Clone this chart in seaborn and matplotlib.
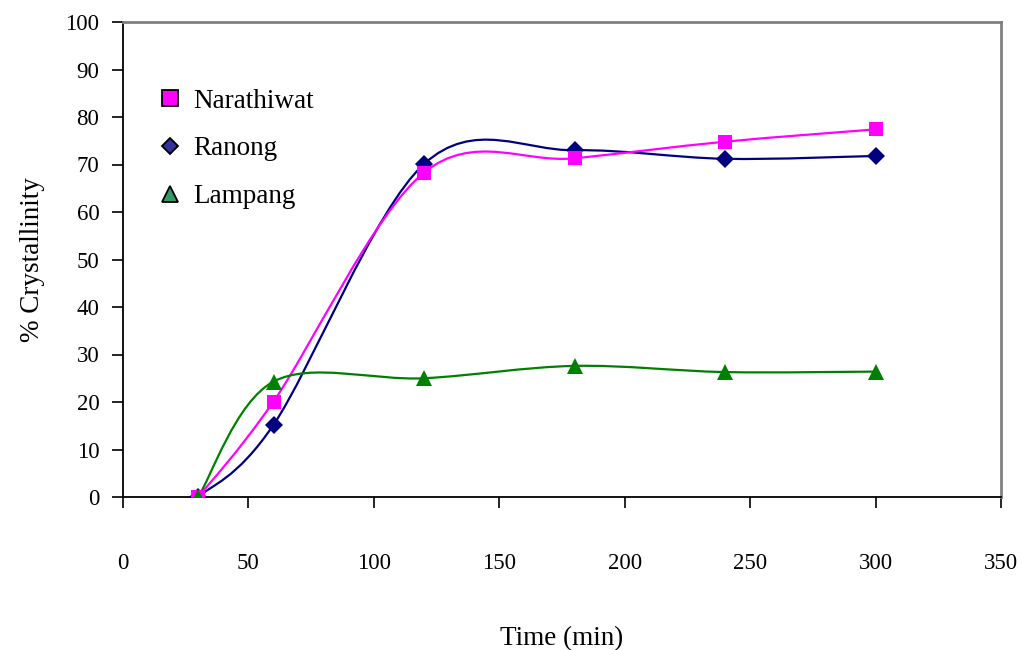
import numpy as np
import pandas as pd
import matplotlib
matplotlib.use("Agg")
import matplotlib.pyplot as plt
from matplotlib.path import Path
from matplotlib.patches import PathPatch
from matplotlib.lines import Line2D
import seaborn as sns

# ---- data ----
time_min = [30, 60, 120, 180, 240, 300]
narathiwat = [0, 20.1, 68.3, 71.3, 74.8, 77.4]
ranong = [0, 15.2, 70.1, 73.0, 71.2, 71.8]
lampang = [0, 24.3, 25.0, 27.6, 26.3, 26.4]
series_names = ["Narathiwat", "Ranong", "Lampang"]
x_ticks = [0, 50, 100, 150, 200, 250, 300, 350]
y_ticks = [0, 10, 20, 30, 40, 50, 60, 70, 80, 90, 100]

sns.set_theme(style="white")
plt.rcParams["font.family"] = ["Liberation Serif", "DejaVu Serif"]
plt.rcParams["text.color"] = "black"
plt.rcParams["axes.labelcolor"] = "black"

fig = plt.figure(figsize=(10.22, 6.5), dpi=100)
ax = fig.add_axes([123 / 1022, 1 - 497 / 650, (1001 - 123) / 1022, (497 - 22) / 650])

styles = {
    "Narathiwat": dict(color="#FF00FF", marker="s", ms=10.5),
    "Ranong": dict(color="#000080", marker="D", ms=9.5),
    "Lampang": dict(color="#008000", marker="^", ms=12),
}
values = {"Narathiwat": narathiwat, "Ranong": ranong, "Lampang": lampang}


def smooth_path(xs, ys):
    pts = np.column_stack([xs, ys]).astype(float)
    n = len(pts)
    verts = [pts[0]]
    codes = [Path.MOVETO]
    for i in range(n - 1):
        p_prev = pts[i - 1] if i > 0 else pts[i]
        p0, p1 = pts[i], pts[i + 1]
        p_next = pts[i + 2] if i + 2 < n else pts[i + 1]
        c1 = p0 + (p1 - p_prev) / 6.0
        c2 = p1 - (p_next - p0) / 6.0
        verts += [c1, c2, p1]
        codes += [Path.CURVE4] * 3
    return Path(verts, codes)


draw_order = ["Ranong", "Narathiwat", "Lampang"]
for z, name in enumerate(draw_order):
    st = styles[name]
    patch = PathPatch(smooth_path(time_min, values[name]), facecolor="none",
                      edgecolor=st["color"], lw=1.6, zorder=2 + z, transform=ax.transData)
    ax.add_patch(patch)

df = pd.DataFrame({
    "time": time_min * 3,
    "value": narathiwat + ranong + lampang,
    "series": sum([[s] * len(time_min) for s in ["Narathiwat", "Ranong", "Lampang"]], []),
})
for z, name in enumerate(draw_order):
    st = styles[name]
    sub = df[df["series"] == name]
    sns.lineplot(data=sub, x="time", y="value", ax=ax, linestyle="none",
                 marker=st["marker"], markersize=st["ms"], color=st["color"],
                 markeredgewidth=0, zorder=10 + z, legend=False)

ax.set_xlim(0, 350)
ax.set_ylim(0, 100)
ax.set_xticks(x_ticks)
ax.set_yticks(y_ticks)
ax.tick_params(axis="both", direction="out", length=8, width=1.2, color="black",
               labelsize=16.5, labelcolor="black")
ax.tick_params(axis="x", pad=32)
ax.tick_params(axis="y", pad=9)
ax.xaxis.set_ticks_position("bottom")
ax.yaxis.set_ticks_position("left")

for side in ["left", "bottom"]:
    ax.spines[side].set_color("black")
    ax.spines[side].set_linewidth(1.3)
for side in ["top", "right"]:
    ax.spines[side].set_color("#808080")
    ax.spines[side].set_linewidth(2)

ax.set_xlabel("Time (min)", fontsize=19.5, labelpad=38, color="black")
ax.set_ylabel("% Crystallinity", fontsize=19.5, labelpad=15, color="black")

legend_style = {
    "Narathiwat": dict(marker="s", mfc="#FF00FF", ms=11),
    "Ranong": dict(marker="D", mfc="#333399", ms=8),
    "Lampang": dict(marker="^", mfc="#339966", ms=11),
}
handles = [Line2D([], [], linestyle="none", marker=legend_style[n]["marker"],
                  markerfacecolor=legend_style[n]["mfc"], markeredgecolor="black",
                  markeredgewidth=1.3, markersize=legend_style[n]["ms"]) for n in series_names]
leg = ax.legend(handles, series_names, loc="upper left", bbox_to_anchor=(143 / 1022, 1 - 75 / 650),
                bbox_transform=fig.transFigure, frameon=False, fontsize=19.5,
                labelspacing=0.84, handletextpad=0.35, handlelength=1.0, borderpad=0)
for t in leg.get_texts():
    t.set_color("black")

fig.savefig("out.png", dpi=100)
